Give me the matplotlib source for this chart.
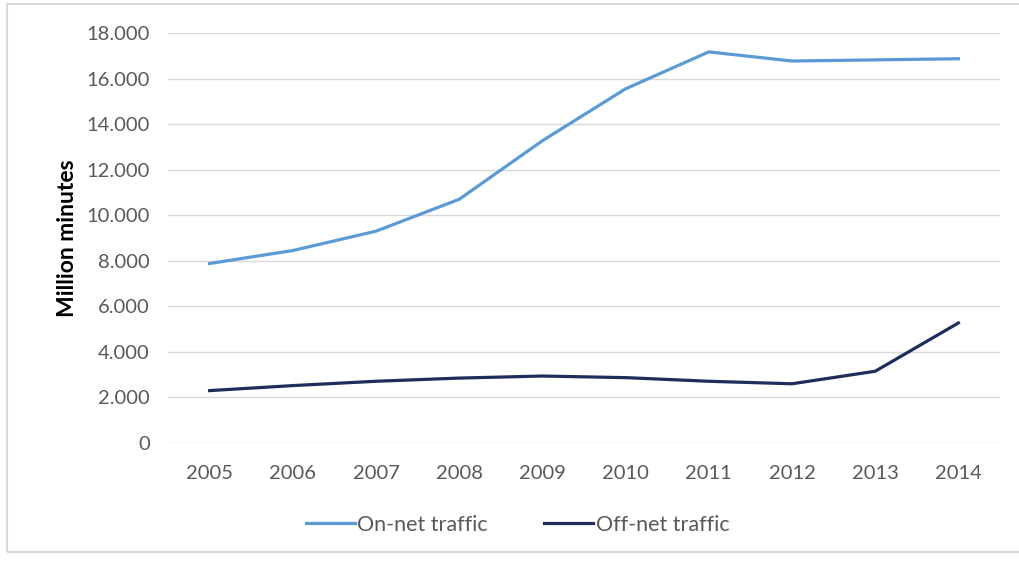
import matplotlib.pyplot as plt
from matplotlib.patches import Rectangle
from matplotlib.ticker import FuncFormatter

years = ["2005", "2006", "2007", "2008", "2009", "2010", "2011", "2012", "2013", "2014"]
on_net = [7880, 8450, 9300, 10700, 13270, 15550, 17170, 16770, 16820, 16870]
off_net = [2300, 2520, 2710, 2850, 2940, 2870, 2710, 2600, 3150, 5270]

plt.rcParams['font.family'] = ['Lato', 'DejaVu Sans']

fig = plt.figure(figsize=(10.19, 5.63), dpi=100)
fig.patches.append(Rectangle((7 / 1019, 11 / 563), 1.2, 548 / 563, transform=fig.transFigure,
                             fill=False, edgecolor="#d9d9d9", linewidth=1.5))

ax = fig.add_axes([168 / 1019, 120 / 563, 832 / 1019, 410 / 563])
x = range(len(years))
ax.plot(x, on_net, color="#5b9bd5", lw=2.3, label="On-net traffic")
ax.plot(x, off_net, color="#1f2d5c", lw=2.3, label="Off-net traffic")

ax.set_xlim(-0.5, len(years) - 0.5)
ax.set_ylim(0, 18000)
ax.set_yticks(range(0, 18001, 2000))
ax.yaxis.set_major_formatter(FuncFormatter(lambda v, p: f"{int(v):,}".replace(",", ".")))
ax.set_xticks(list(x))
ax.set_xticklabels(years)
ax.grid(axis="y", color="#d9d9d9", lw=1)
ax.set_axisbelow(True)
for s in ax.spines.values():
    s.set_visible(False)
ax.tick_params(length=0, labelsize=14.5, colors="#595959", pad=13)
ax.tick_params(axis="x", pad=16)

ax.set_ylabel("Million minutes", fontsize=16.5, fontweight="bold", color="black", labelpad=6)

ax.legend(loc="center", bbox_to_anchor=(0.42, -0.2), ncol=2, frameon=False,
          fontsize=15.5, labelcolor="#595959", handlelength=2.3, handletextpad=0.1,
          columnspacing=2.6)

plt.savefig("out.png")
